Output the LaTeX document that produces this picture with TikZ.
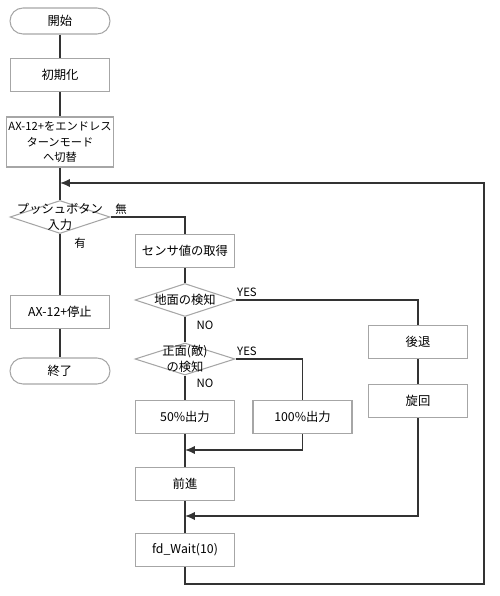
\documentclass[tikz,border=0pt]{standalone}
\usepackage{fontspec}
\setmainfont{Noto Sans CJK JP}
\usetikzlibrary{shapes.geometric,arrows.meta}

\tikzset{
	every node/.style={font=\fontsize{7}{9}\selectfont},
	proc/.style={draw=gray!70, line width=0.6pt, rectangle, minimum width=1.98cm, minimum height=0.66cm, inner sep=1pt, align=center},
	termi/.style={draw=gray!70, line width=0.6pt, rectangle, rounded corners=0.26cm, minimum width=2cm, minimum height=0.52cm},
	decision/.style={draw=gray!70, line width=0.6pt, diamond, aspect=3, minimum width=2cm, minimum height=0.66cm, inner sep=0pt},
	intext/.style={align=center, inner sep=0pt},
	flow/.style={draw=black!80, line width=0.9pt},
	into/.style={flow, -{Latex[length=2mm,width=1.7mm]}},
	tag/.style={font=\fontsize{6.5}{8}\selectfont, inner sep=0pt}
}

\begin{document}
\begin{tikzpicture}[x=0.02cm, y=-0.02cm]
			\useasboundingbox (0,0) rectangle (500,596);

			% left column
			\node[termi]	(start)		at (60,21)	{開始};
			\node[proc]		(init)		at (60,75)	{初期化};
			\node[proc, minimum height=1cm, font=\fontsize{6.4}{9}\selectfont]	(endless)	at (60,142)	{AX-12+をエンドレス\\ターンモード\\へ切替};
			\node[decision, label={[intext]center:プッシュボタン\\入力}]	(push)	at (60,217)	{};
			\node[proc]		(stop)		at (60,312)	{AX-12+停止};
			\node[termi]	(finish)	at (60,371)	{終了};

			% right column
			\node[proc]		(sensor)	at (185,251)	{センサ値の取得};
			\node[decision, label={[intext]center:地面の検知}]	(ground)	at (185,300)	{};
			\node[decision, minimum height=0.64cm, label={[intext]center:正面(敵)\\の検知}]	(front)	at (185,359)	{};
			\node[proc]		(half)		at (185,417)	{50\%出力};
			\node[proc]		(full)		at (302.5,417)	{100\%出力};
			\node[proc]		(fwd)		at (185,484)	{前進};
			\node[proc]		(wait)		at (185,550)	{fd\_Wait(10)};
			\node[proc]		(back)		at (418,342)	{後退};
			\node[proc]		(turn)		at (418,401)	{旋回};

			\coordinate	(loop)	at (60,183);
			\coordinate	(joinA)	at (185,450);
			\coordinate	(joinB)	at (185,516);

			% connectors
			\draw[flow]	(start) -- (init);
			\draw[flow]	(init) -- (endless);
			\draw[flow]	(endless) -- (push);
			\draw[flow]	(push) -- (stop);
			\draw[flow]	(stop) -- (finish);
			\draw[flow]	(push.east) -| (sensor.north);
			\draw[flow]	(sensor) -- (ground);
			\draw[flow]	(ground.east) -| (back.north);
			\draw[flow]	(ground) -- (front);
			\draw[flow]	(front.east) -| (full.north);
			\draw[flow]	(front) -- (half);
			\draw[flow]	(half) -- (fwd);
			\draw[flow]	(fwd) -- (wait);
			\draw[flow]	(back) -- (turn);
			\draw[into]	(full.south) |- (joinA);
			\draw[into]	(turn.south) |- (joinB);
			\draw[into]	(wait.south) -- ++(0,17) -| (484,183) -- (loop);

			% branch labels
			\node[tag]	(nashi)	at (121,209)	{無};
			\node[tag]	(ari)	at (80,243)		{有};
			\node[tag]	(yesA)	at (247,292)	{YES};
			\node[tag]	(noA)	at (205,325)	{NO};
			\node[tag]	(yesB)	at (247,351)	{YES};
			\node[tag]	(noB)	at (205,383)	{NO};
		\end{tikzpicture}
\end{document}
